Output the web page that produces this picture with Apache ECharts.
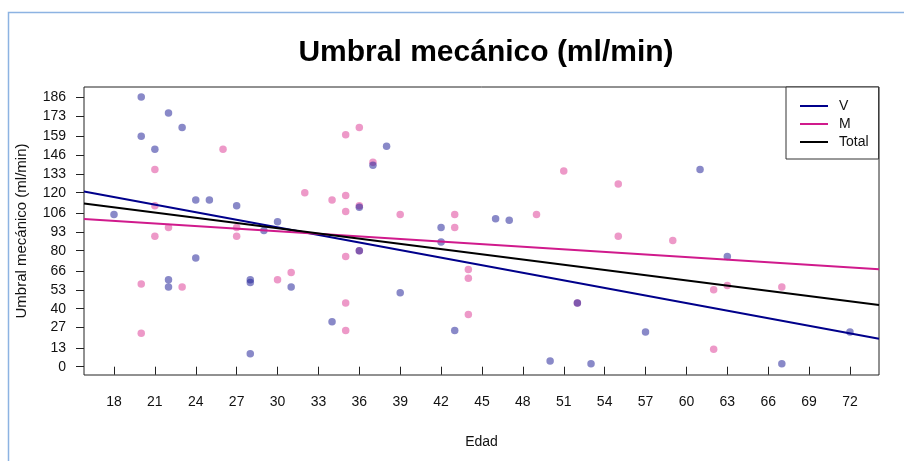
<!DOCTYPE html>
<html>
<head>
<meta charset="utf-8">
<title>Umbral mecánico</title>
<script src="https://cdn.jsdelivr.net/npm/echarts@6/dist/echarts.min.js"></script>
<style>
    html, body { margin: 0; padding: 0; background: #fff; }
    #chart { width: 904px; height: 461px; }
</style>
</head>
<body>
<div id="chart"></div>
<script>
// puntos [edad, umbral]
var puntosV = [
    [20, 186], [22, 175], [23, 165], [20, 159], [21, 150], [18, 105], [24, 115], [25, 115],
    [27, 111], [30, 100], [29, 94], [24, 75], [22, 60], [22, 55], [28, 60], [28, 58], [28, 9],
    [38, 152], [37, 139], [36, 110], [36, 80], [42, 96], [42, 86], [31, 55], [39, 51], [34, 31],
    [43, 25], [46, 102], [47, 101], [52, 44], [57, 24], [50, 4], [53, 2], [61, 136], [63, 76],
    [72, 24], [67, 2]
];
var puntosM = [
    [26, 150], [21, 136], [21, 111], [22, 96], [21, 90], [27, 96], [27, 90], [20, 57], [23, 55],
    [30, 60], [20, 23], [37, 141], [36, 111], [36, 165], [35, 160], [32, 120], [34, 115], [35, 118],
    [35, 107], [39, 105], [43, 105], [43, 96], [35, 76], [31, 65], [44, 67], [44, 61], [35, 44],
    [44, 36], [35, 25], [36, 80], [52, 44], [49, 105], [51, 135], [55, 126], [55, 90], [59, 87],
    [62, 53], [63, 56], [67, 55], [62, 12]
];

// rectas de regresion (extremos del rango de edad)
var edadRango = [15.8, 74.13];
var rectaV = [120.8, 19.3];
var rectaM = [101.8, 67.2];
var rectaTotal = [112.5, 42.6];

var xTicks = [18, 21, 24, 27, 30, 33, 36, 39, 42, 45, 48, 51, 54, 57, 60, 63, 66, 69, 72];
var yTicks = [0, 13, 27, 40, 53, 66, 80, 93, 106, 120, 133, 146, 159, 173, 186];
var nombres = ['V', 'M', 'Total'];

(function () {
    var chart = {
        init() {
            this.myChart = echarts.init(document.getElementById('chart'), null, { renderer: 'canvas' });
            this.myChart.setOption(this.getOption());
        },
        recta(valores) {
            return [[edadRango[0], valores[0]], [edadRango[1], valores[1]]];
        },
        lineSeries(name, valores, color) {
            return {
                name: name,
                type: 'line',
                data: this.recta(valores),
                showSymbol: false,
                symbol: 'none',
                silent: true,
                lineStyle: { color: color, width: 2 },
                itemStyle: { color: color },
                z: 3
            };
        },
        getOption() {
            var font = 'Liberation Sans, Arial, sans-serif';
            return {
                animation: false,
                textStyle: { fontFamily: font },
                graphic: [{
                    // marco azul claro
                    type: 'rect',
                    shape: { x: 8.5, y: 12.5, width: 1000, height: 1000 },
                    style: { fill: 'none', stroke: '#8db3e2', lineWidth: 1.5 },
                    silent: true
                }],
                title: {
                    text: 'Umbral mecánico (ml/min)',
                    left: 481,
                    top: 33,
                    textAlign: 'center',
                    textStyle: { fontSize: 30, fontWeight: 'bold', color: '#000', fontFamily: font }
                },
                legend: {
                    data: nombres,
                    orient: 'vertical',
                    left: 786,
                    top: 87,
                    padding: [12, 10, 10, 14],
                    itemGap: 4,
                    itemWidth: 28,
                    itemHeight: 2,
                    icon: 'rect',
                    borderColor: '#333',
                    borderWidth: 1,
                    backgroundColor: '#fff',
                    textStyle: { fontSize: 14, color: '#111', padding: [0, 0, 0, 6], fontFamily: font }
                },
                grid: {
                    left: 84,
                    top: 87,
                    right: 25,
                    bottom: 86,
                    show: true,
                    borderColor: '#222',
                    borderWidth: 1
                },
                xAxis: {
                    type: 'value',
                    min: edadRango[0],
                    max: edadRango[1],
                    name: 'Edad',
                    nameLocation: 'middle',
                    nameGap: 60,
                    nameTextStyle: { fontSize: 14, color: '#111' },
                    axisLine: { show: false },
                    splitLine: { show: false },
                    axisTick: { show: true, length: 8, customValues: xTicks, lineStyle: { color: '#222' } },
                    axisLabel: { customValues: xTicks, margin: 20, fontSize: 14, color: '#111' }
                },
                yAxis: {
                    type: 'value',
                    min: -5.73,
                    max: 192.9,
                    name: 'Umbral mecánico (ml/min)',
                    nameLocation: 'middle',
                    nameGap: 55,
                    nameTextStyle: { fontSize: 15, color: '#111' },
                    axisLine: { show: false },
                    splitLine: { show: false },
                    axisTick: { show: true, length: 8, customValues: yTicks, lineStyle: { color: '#222' } },
                    axisLabel: { customValues: yTicks, margin: 18, fontSize: 14, color: '#111' }
                },
                series: [
                    {
                        name: 'puntosM',
                        type: 'scatter',
                        data: puntosM,
                        symbolSize: 7.5,
                        itemStyle: { color: 'rgba(220,60,150,0.66)' },
                        z: 2
                    },
                    {
                        name: 'puntosV',
                        type: 'scatter',
                        data: puntosV,
                        symbolSize: 7.5,
                        itemStyle: { color: 'rgba(30,30,150,0.66)' },
                        z: 2
                    },
                    this.lineSeries('V', rectaV, '#00008B'),
                    this.lineSeries('M', rectaM, '#D01A8C'),
                    this.lineSeries('Total', rectaTotal, '#000')
                ]
            };
        }
    };

    chart.init();
})();
</script>
</body>
</html>
